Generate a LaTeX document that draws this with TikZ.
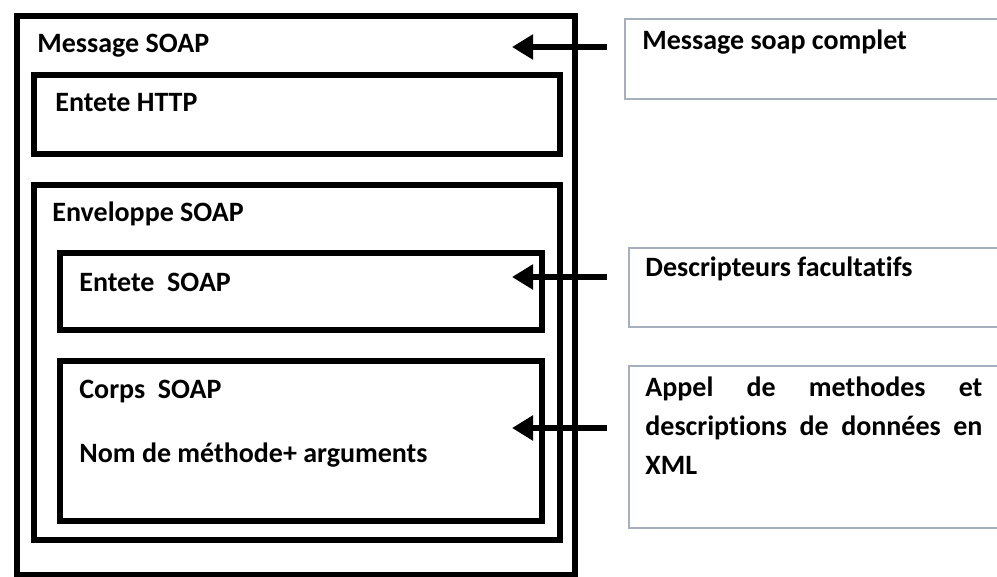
\documentclass[tikz,border=0pt]{standalone}
\usepackage{fontspec}
\setmainfont[Ligatures=NoCommon]{Carlito}
\usetikzlibrary{arrows.meta,shadows}
\definecolor{thinline}{RGB}{165,175,190}
\definecolor{shadowc}{RGB}{140,155,185}
\tikzset{
    bigbox/.style={draw, line width=3pt, fill=white, inner sep=0, anchor=north west,
        drop shadow={shadow xshift=1pt, shadow yshift=-1pt, fill=shadowc, opacity=.5}},
    notebox/.style={draw=thinline, line width=.8pt, inner sep=0, anchor=north west},
    lbl/.style={font=\bfseries\fontsize{14}{19.5}\selectfont, inner sep=0, anchor=base west},
    arr/.style={line width=2.7pt, -{Triangle[length=10.5pt,width=12pt]}}
}
\begin{document}
\begin{tikzpicture}[x=0.5pt,y=-0.5pt]
    \clip (0,0) rectangle (997,577);
    %% message soap
    \node[bigbox, minimum width=279pt, minimum height=279.5pt] (message) at (14,13) {};
    \node[lbl] (messagelbl) at (37,53) {Message SOAP};
    \node[bigbox, minimum width=263pt, minimum height=39.5pt] (http) at (31,72) {};
    \node[lbl] (httplbl) at (55,112) {Entete HTTP};
    %% enveloppe
    \node[bigbox, minimum width=263pt, minimum height=177.5pt] (env) at (31,182) {};
    \node[lbl] (envlbl) at (52,222) {Enveloppe SOAP};
    \node[bigbox, minimum width=241pt, minimum height=38.5pt] (entete) at (57,250) {};
    \node[lbl] (entetelbl) at (79,292) {Entete\ \ SOAP};
    \node[bigbox, minimum width=241pt, minimum height=80pt] (corps) at (57,358) {};
    \node[lbl] (corpslbl) at (79,399) {Corps\ \ SOAP};
    \node[lbl] (nomlbl) at (79,463) {Nom de méthode+ arguments};
    %% notes on the right
    \node[notebox, minimum width=193pt, minimum height=40pt] (msg) at (624,18) {};
    \node[lbl] (msglbl) at (642,50) {Message soap complet};
    \node[notebox, minimum width=191pt, minimum height=39.5pt] (desc) at (628,247) {};
    \node[lbl] (desclbl) at (645,277) {Descripteurs facultatifs};
    \node[notebox, minimum width=191pt, minimum height=81pt] (appel) at (628,365) {};
    \node[lbl, text width=168.5pt, align=left] (appellbl) at (645,397)
        {\makebox[168.5pt]{Appel\hfill de\hfill methodes\hfill et}\\
         \makebox[168.5pt]{descriptions\hfill de\hfill données\hfill en}\\
         XML};
    %% arrows
    \foreach \y/\n in {47/msg,277/desc,428/appel} {
        \coordinate (tip\n) at (512,\y);
        \coordinate (tail\n) at (607,\y);
        \draw[arr] (tail\n) -- (tip\n);
    }
\end{tikzpicture}
\end{document}
